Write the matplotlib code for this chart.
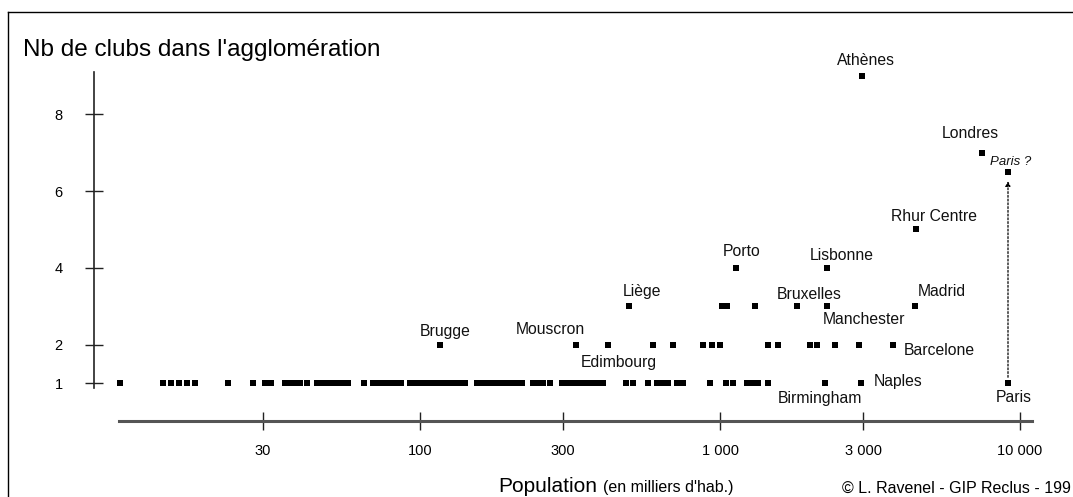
import numpy as np
import matplotlib.pyplot as plt
from matplotlib.lines import Line2D
from matplotlib.ticker import NullLocator

plt.rcParams['font.family'] = ['Liberation Sans', 'DejaVu Sans']

# villes nommees : population (milliers d'hab.) et nombre de clubs
names = ['Athènes', 'Londres', 'Paris ?', 'Rhur Centre', 'Porto', 'Lisbonne',
         'Liège', 'Bruxelles', 'Manchester', 'Madrid', 'Brugge', 'Mouscron',
         'Edimbourg', 'Barcelone', 'Naples', 'Birmingham', 'Paris']
pops = [2970, 7450, 9120, 4490, 1130, 2270, 498, 1810, 2280, 4470, 117, 330,
        422, 3780, 2950, 2240, 9120]
clubs = [9, 7, 6.5, 5, 4, 4, 3, 3, 3, 3, 2, 2, 2, 2, 1, 1, 1]

# autres agglomerations
pop_3 = [1013, 1055, 1308]
pop_2 = [600, 696, 880, 938, 1000, 1449, 1564, 1995, 2100, 2417, 2906]
pop_1 = [10, 13.9, 14.8, 15.7, 16.7, 17.8, 22.9, 27.8, 30.4, 31.9, 35.5, 36.9,
         38.3, 39.8, 42.0, 45.4, 47.1, 49.0, 51.3, 53.3, 55.4, 57.5, 65.0,
         69.7, 72.4, 75.3, 78.8, 82.5, 86.4, 92.6, 96.2, 100, 104, 108, 112,
         117, 121, 126, 131, 136, 141, 155, 161, 167, 174, 181, 188, 195, 203,
         211, 219, 238, 247, 257, 271, 297, 309, 321, 334, 347, 360, 374, 389,
         407, 486, 513, 575, 617, 641, 671, 719, 753, 926, 1047, 1105, 1230,
         1278, 1339, 1445]

xticks = [30, 100, 300, 1000, 3000, 10000]
xtick_labels = ['30', '100', '300', '1 000', '3 000', '10 000']
yticks = [1, 2, 4, 6, 8]

# decalage des etiquettes en pixels (dx, dy, alignement)
offsets = {
    'Athènes': (4, 15, 'center'), 'Londres': (-11, 19, 'center'),
    'Paris ?': (3, 10, 'center'), 'Rhur Centre': (18, 13, 'center'),
    'Porto': (6, 16, 'center'), 'Lisbonne': (15, 12, 'center'),
    'Liège': (13, 15, 'center'), 'Bruxelles': (12, 12, 'center'),
    'Manchester': (37, -13, 'center'), 'Madrid': (27, 15, 'center'),
    'Brugge': (5, 13, 'center'), 'Mouscron': (-25, 15, 'center'),
    'Edimbourg': (11, -18, 'center'), 'Barcelone': (11, -6, 'left'),
    'Naples': (13, 2, 'left'), 'Birmingham': (-5, -15, 'center'),
    'Paris': (6, -14, 'center'),
}

W, H = 1073, 497
fig = plt.figure(figsize=(W / 100, H / 100), dpi=100)
ax = fig.add_axes([0, 0, 1, 1])
ax.set_xscale('log')


def px2pop(px):
    return 10 ** (3 + (px - 720) / 300)


y0, unit = 421.4, 38.39
ax.set_xlim(px2pop(0), px2pop(W))
ax.set_ylim((y0 - H) / unit, y0 / unit)

ms = 3.9
for p, lev in [(pop_1, 1), (pop_2, 2), (pop_3, 3)]:
    ax.plot(p, [lev] * len(p), 's', ms=ms, color='black', mew=0)
ax.plot(pops, clubs, 's', ms=ms, color='black', mew=0, ls='none')

for n, p, c in zip(names, pops, clubs):
    dx, dy, ha = offsets[n]
    it = n == 'Paris ?'
    ax.annotate(n, (p, c), xytext=(dx, dy), textcoords='offset pixels',
                ha=ha, va='center', fontsize=9.5 if it else 11.3,
                style='italic' if it else 'normal', color='#111111')

# fleche pointillee Paris -> Paris ?
ax.annotate('', xy=(pops[2], 6.26), xytext=(pops[-1], 1.15),
            arrowprops=dict(arrowstyle='-|>', color='black', lw=0.9,
                            ls=(0, (1.5, 1.5)), mutation_scale=7,
                            shrinkA=0, shrinkB=0))

for s in ['top', 'right']:
    ax.spines[s].set_visible(False)
ax.spines['left'].set_position(('data', px2pop(94)))
ax.spines['left'].set_bounds((y0 - 388) / unit, (y0 - 72) / unit)
ax.spines['left'].set_linewidth(1.2)
ax.spines['left'].set_color('#222222')
ax.spines['bottom'].set_position(('data', 0))
ax.spines['bottom'].set_bounds(px2pop(119), px2pop(1032))
ax.spines['bottom'].set_linewidth(2.2)
ax.spines['bottom'].set_color('#555555')

ax.set_xticks(xticks, xtick_labels)
ax.xaxis.set_minor_locator(NullLocator())
ax.set_yticks(yticks, [str(v) for v in yticks])
ax.tick_params(axis='x', direction='inout', length=13, width=1,
               color='#222222', labelsize=10.5, pad=10)
ax.tick_params(axis='y', direction='inout', length=13, width=1,
               color='#222222', labelsize=10.5, pad=16)

fig.text(23 / W, 1 - 50 / H, "Nb de clubs dans l'agglomération",
         ha='left', va='center', fontsize=17.5)
fig.text(498 / W, 1 - 492 / H, 'Population', ha='left', va='baseline',
         fontsize=15)
fig.text(603 / W, 1 - 492 / H, "(en milliers d'hab.)", ha='left',
         va='baseline', fontsize=11.5)
fig.text(1071 / W, 1 - 493 / H, '© L. Ravenel - GIP Reclus - 199',
         ha='right', va='baseline', fontsize=11.5)

fig.add_artist(Line2D([8 / W, 8 / W], [0, 1 - 12 / H], color='black', lw=1))
fig.add_artist(Line2D([8 / W, 1], [1 - 12 / H, 1 - 12 / H], color='black', lw=1))

fig.savefig('out.png', dpi=100)
